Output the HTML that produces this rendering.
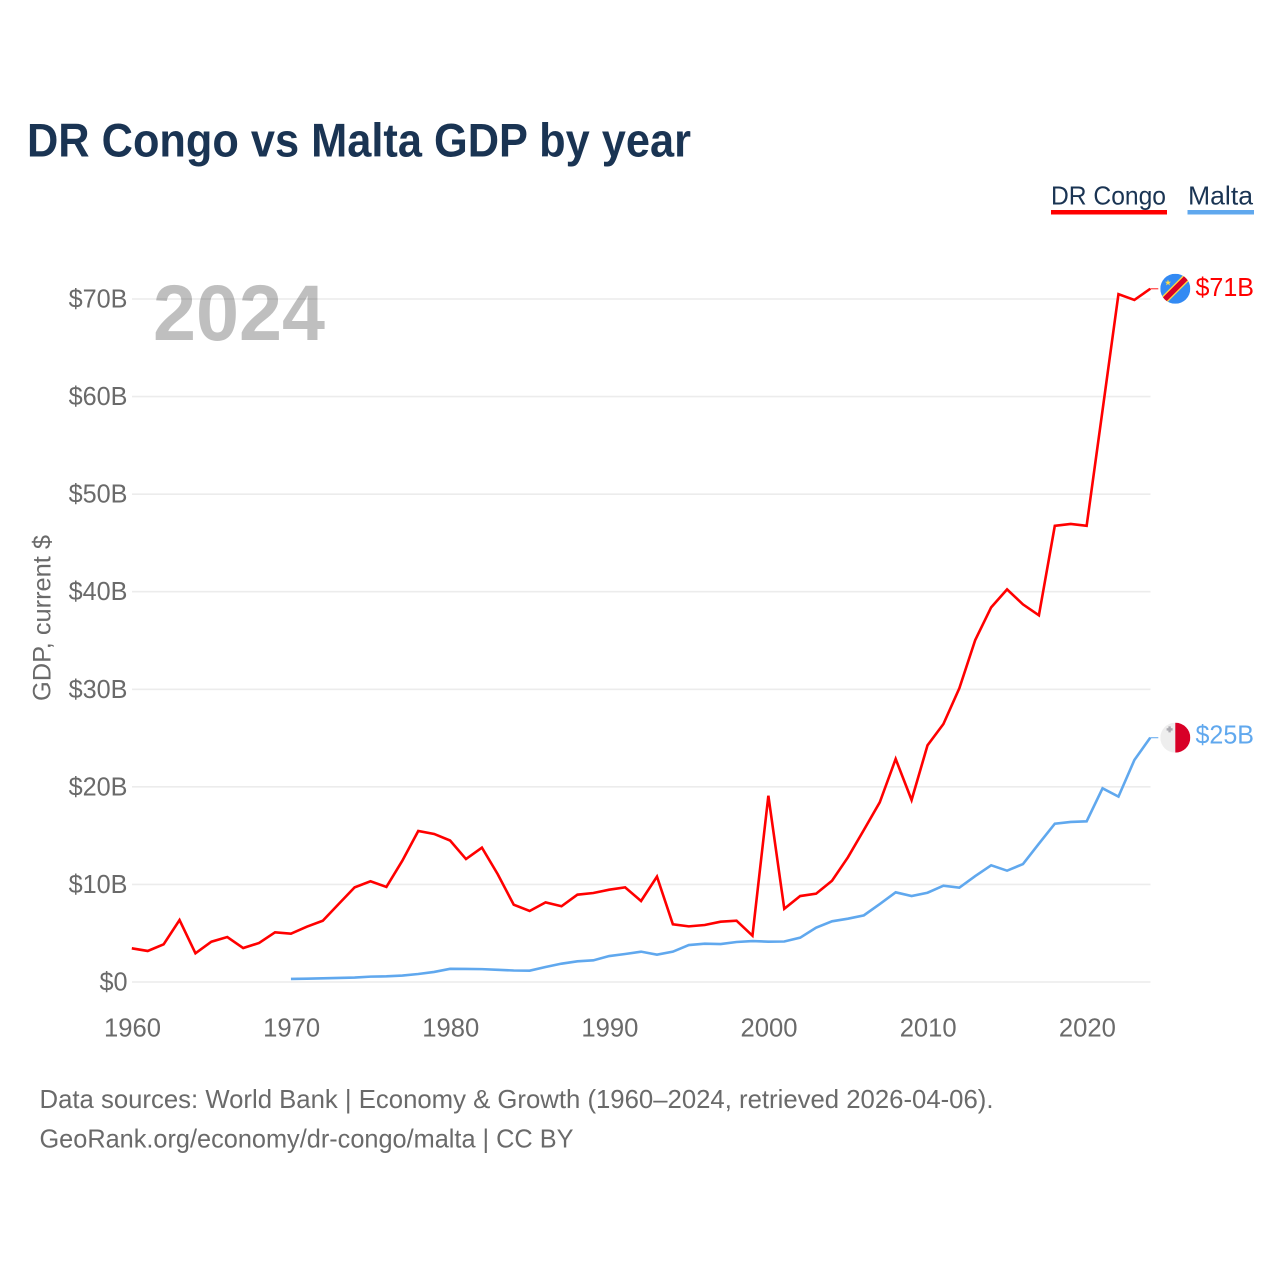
<!DOCTYPE html>
<html lang="en">
<head>
<meta charset="utf-8">
<title>DR Congo vs Malta GDP by year</title>
<style>
  html, body { margin: 0; padding: 0; background: #fff; }
  svg { display: block; }
  text { font-family: "Liberation Sans", sans-serif; }
</style>
</head>
<body>
<svg id="chart" xmlns="http://www.w3.org/2000/svg" width="1280" height="1280" viewBox="0 0 1280 1280">
  <rect x="0" y="0" width="1280" height="1280" fill="#ffffff"/>
  <text x="27" y="156.5" font-size="47" font-weight="700" fill="#1a3453" textLength="664" lengthAdjust="spacingAndGlyphs">DR Congo vs Malta GDP by year</text>

  <g>
    <g>
      <text x="1051" y="204.5" font-size="26" fill="#1a3453" textLength="115" lengthAdjust="spacingAndGlyphs">DR Congo</text>
      <rect x="1051" y="210" width="116" height="4.5" fill="#ff0000"/>
    </g>
    <g>
      <text x="1188" y="204.5" font-size="26" fill="#1a3453" textLength="65" lengthAdjust="spacingAndGlyphs">Malta</text>
      <rect x="1187.5" y="210" width="66.5" height="4.5" fill="#60a8ee"/>
    </g>
  </g>

  <g id="grid"></g>
  <g id="y-axis"></g>
  <g id="x-axis"></g>
  <text transform="translate(50.5,618) rotate(-90)" text-anchor="middle" font-size="25" fill="#6a6a6a" textLength="166" lengthAdjust="spacingAndGlyphs">GDP, current $</text>
  <text x="153" y="340" font-size="79" font-weight="700" fill="#000000" fill-opacity="0.25" textLength="172" lengthAdjust="spacingAndGlyphs">2024</text>
  <g id="series"></g>

  <g id="flag-drc">
    <defs>
      <clipPath id="clip-drc"><circle cx="0" cy="0" r="15"/></clipPath>
      <clipPath id="clip-mlt"><circle cx="0" cy="0" r="15"/></clipPath>
    </defs>
    <g clip-path="url(#clip-drc)">
      <rect x="-15" y="-15" width="30" height="30" fill="#338af3"/>
      <line x1="-15" y1="15" x2="15" y2="-15" stroke="#ffda44" stroke-width="8"/>
      <line x1="-15" y1="15" x2="15" y2="-15" stroke="#d80027" stroke-width="5.4"/>
      <polygon points="-7.3,-9.2 -6.5,-7 -4.2,-7 -6,-5.6 -5.4,-3.4 -7.3,-4.7 -9.2,-3.4 -8.6,-5.6 -10.4,-7 -8.1,-7" fill="#ffda44"/>
    </g>
  </g>
  <g id="flag-mlt">
    <g clip-path="url(#clip-mlt)">
      <rect x="-15" y="-15" width="15" height="30" fill="#eeeeee"/>
      <rect x="0" y="-15" width="15" height="30" fill="#d80027"/>
      <rect x="-6.9" y="-11.3" width="2.4" height="6" fill="#acabb1"/>
      <rect x="-8.7" y="-9.5" width="6" height="2.4" fill="#acabb1"/>
    </g>
  </g>

  <text id="value-drc" x="1195.5" font-size="26" fill="#ff0000" textLength="58.5" lengthAdjust="spacingAndGlyphs"></text>
  <text id="value-mlt" x="1195.5" font-size="26" fill="#60a8ee" textLength="58.5" lengthAdjust="spacingAndGlyphs"></text>

  <g>
    <text x="39.5" y="1108" font-size="26" fill="#6a6a6a" textLength="954" lengthAdjust="spacingAndGlyphs">Data sources: World Bank | Economy &amp; Growth (1960–2024, retrieved 2026-04-06).</text>
    <text x="39.5" y="1147.5" font-size="26" fill="#6a6a6a" textLength="534" lengthAdjust="spacingAndGlyphs">GeoRank.org/economy/dr-congo/malta | CC BY</text>
  </g>
</svg>

<script>
const startYear = 1960;
const drCongoGdp = [3.45, 3.18, 3.86, 6.35, 2.94, 4.13, 4.61, 3.48, 4.0, 5.09,
  4.95, 5.67, 6.28, 7.99, 9.7, 10.32, 9.74, 12.43, 15.48, 15.17,
  14.5, 12.6, 13.77, 11.03, 7.92, 7.28, 8.16, 7.76, 8.95, 9.12,
  9.46, 9.7, 8.3, 10.8, 5.91, 5.7, 5.84, 6.18, 6.28, 4.75,
  19.09, 7.5, 8.81, 9.05, 10.38, 12.78, 15.58, 18.42, 22.86, 18.65,
  24.25, 26.44, 30.1, 35.05, 38.4, 40.24, 38.7, 37.58, 46.75, 46.95,
  46.75, 58.6, 70.5, 69.9, 71.05];
const maltaGdp = [null, null, null, null, null, null, null, null, null, null,
  0.31, 0.34, 0.38, 0.42, 0.45, 0.55, 0.58, 0.66, 0.82, 1.03,
  1.35, 1.34, 1.32, 1.25, 1.18, 1.16, 1.54, 1.88, 2.12, 2.22,
  2.66, 2.87, 3.11, 2.8, 3.11, 3.79, 3.93, 3.89, 4.1, 4.2,
  4.13, 4.15, 4.54, 5.57, 6.22, 6.49, 6.83, 7.99, 9.19, 8.81,
  9.15, 9.87, 9.67, 10.86, 11.96, 11.41, 12.09, 14.18, 16.22, 16.4,
  16.47, 19.85, 19.0, 22.75, 25.04];
const yTickValues = [0, 10, 20, 30, 40, 50, 60, 70];
const yTickLabels = ["$0", "$10B", "$20B", "$30B", "$40B", "$50B", "$60B", "$70B"];
const xTickYears = [1960, 1970, 1980, 1990, 2000, 2010, 2020];

const NS = "http://www.w3.org/2000/svg";
function xScale(year) { return 131.8 + (year - 1960) * 15.914; }
function yScale(v) { return 982 - v * (982 - 299) / 70; }
function make(tag, attrs, parent) {
  const el = document.createElementNS(NS, tag);
  for (const k in attrs) el.setAttribute(k, attrs[k]);
  parent.appendChild(el);
  return el;
}

const grid = document.getElementById("grid");
const yAxis = document.getElementById("y-axis");
const xAxis = document.getElementById("x-axis");
const series = document.getElementById("series");

yTickValues.forEach(function (v, i) {
  const line = make("line", { x1: 132, x2: 1150.5, y1: yScale(v), y2: yScale(v), stroke: "#ececec", "stroke-width": 1.6 }, grid);
  
  
  const label = make("text", { x: 127.5, y: yScale(v) + 8.5, "text-anchor": "end", "font-size": 26, fill: "#6a6a6a" }, yAxis);
  
  
  label.textContent = yTickLabels[i];
  label.setAttribute("textLength", label.getComputedTextLength() * 0.97);
  label.setAttribute("lengthAdjust", "spacingAndGlyphs");
});

xTickYears.forEach(function (yr) {
  const label = make("text", { x: xScale(yr) + 0.7, y: 1036.5, "text-anchor": "middle", "font-size": 26, fill: "#6a6a6a" }, xAxis);
  
  
  label.textContent = String(yr);
  label.setAttribute("textLength", 57);
  label.setAttribute("lengthAdjust", "spacingAndGlyphs");
});

function linePath(values) {
  let d = "";
  values.forEach(function (v, i) {
    if (v === null) return;
    d += (d ? "L" : "M") + xScale(startYear + i).toFixed(2) + " " + yScale(v).toFixed(2);
  });
  return d;
}
function lastValue(values) { return values[values.length - 1]; }
function endX(values) { return xScale(startYear + values.length - 1); }
function money(v) { return "$" + Math.round(v) + "B"; }

const drcLine = make("path", { d: linePath(drCongoGdp), fill: "none", stroke: "#ff0000", "stroke-width": 2.6, "stroke-linejoin": "miter" }, series);


const mltLine = make("path", { d: linePath(maltaGdp), fill: "none", stroke: "#60a8ee", "stroke-width": 2.6, "stroke-linejoin": "miter" }, series);



const drcConnector = make("line", { x1: endX(drCongoGdp), x2: endX(drCongoGdp) + 8, y1: yScale(lastValue(drCongoGdp)), y2: yScale(lastValue(drCongoGdp)), stroke: "#ff0000", "stroke-opacity": 0.75, "stroke-width": 1.2 }, series);


const mltConnector = make("line", { x1: endX(maltaGdp), x2: endX(maltaGdp) + 8, y1: yScale(lastValue(maltaGdp)), y2: yScale(lastValue(maltaGdp)), stroke: "#60a8ee", "stroke-opacity": 0.85, "stroke-width": 1.2 }, series);



document.getElementById("flag-drc").setAttribute("transform", "translate(" + (endX(drCongoGdp) + 25) + "," + yScale(lastValue(drCongoGdp)) + ")");
document.getElementById("flag-mlt").setAttribute("transform", "translate(" + (endX(maltaGdp) + 25) + "," + yScale(lastValue(maltaGdp)) + ")");

const valueDrc = document.getElementById("value-drc");
valueDrc.textContent = money(lastValue(drCongoGdp));
valueDrc.setAttribute("y", yScale(lastValue(drCongoGdp)) + 7);
const valueMlt = document.getElementById("value-mlt");
valueMlt.textContent = money(lastValue(maltaGdp));
valueMlt.setAttribute("y", yScale(lastValue(maltaGdp)) + 6);
</script>
</body>
</html>
